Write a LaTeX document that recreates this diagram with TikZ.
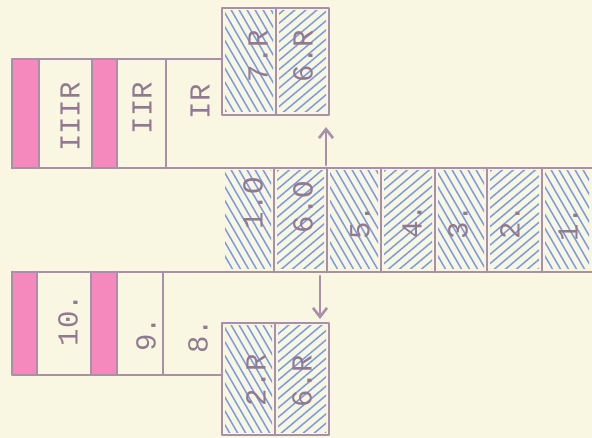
\documentclass[tikz,border=0pt]{standalone}
\usepackage{fontspec}
\setmonofont{Liberation Mono}
\usetikzlibrary{arrows.meta}
\definecolor{paper}{RGB}{249,247,226}
\definecolor{inkpurple}{RGB}{170,143,170}
\definecolor{inkblue}{RGB}{122,156,226}
\definecolor{inkpink}{RGB}{245,125,186}

\begin{document}
\begin{tikzpicture}[x=1pt,y=-1pt,
    frame/.style={draw=inkpurple,line width=2.6pt,line cap=round,line join=round},
    hatch/.style={draw=inkblue,line width=1.5pt},
    typed/.style={font=\ttfamily\fontsize{29}{29}\selectfont,text=inkpurple!85!black,
                  rotate=90,inner sep=0pt},
    pinkband/.style={fill=inkpink,opacity=0.9}]
  \fill[paper] (0,0) rectangle (592,438);
  \useasboundingbox (0,0) rectangle (592,438);
  % pink bands of the two strips
  \foreach \xa/\xb/\ya/\yb in {12/39/59/168,92/117/59/168,12/37/272/375,91/117/272/375}{
    \fill[pinkband] (\xa,\ya) rectangle (\xb,\yb);
  }
  % hatching, steep cells
  \foreach \xa/\xb/\ya/\yb in {222/274/168/272,327/381/168/272,435/487/168/272,542/592/168/272,
                               222/276/8/115,222/275/323/435}{
    \begin{scope}
      \clip (\xa+3,\ya+3) rectangle (\xb-3,\yb-3);
      \foreach \t in {-72,-64,...,60}
        \draw[hatch] (\xa+\t,\ya) -- ++(70,121);
    \end{scope}
  }
  % hatching, flat cells
  \foreach \xa/\xb/\ya/\yb in {274/327/168/272,381/435/168/272,487/542/168/272,
                               276/329/8/115,275/329/323/435}{
    \begin{scope}
      \clip (\xa+3,\ya+3) rectangle (\xb-3,\yb-3);
      \foreach \t in {-150,-139,...,60}
        \draw[hatch] (\xa+\t,\yb) -- ++(145,-122);
    \end{scope}
  }
  % frame
  \draw[frame] (222,8) rectangle (329,115);
  \draw[frame] (276,8) -- (276,115);
  \draw[frame] (222,323) rectangle (329,435);
  \draw[frame] (275,323) -- (275,435);
  \draw[frame] (12,168) -- (592,168);
  \draw[frame] (12,272) -- (592,272);
  \draw[frame] (222,59) -- (12,59) -- (12,168);
  \draw[frame] (12,272) -- (12,375) -- (222,375);
  \foreach \x in {274,327,381,435,487,542}
    \draw[frame] (\x,168) -- (\x,272);
  \foreach \x in {39,92,117,166}
    \draw[frame] (\x,59) -- (\x,168);
  \foreach \x in {37,91,117,163}
    \draw[frame] (\x,272) -- (\x,375);
  % labels
  \foreach \x/\y/\txt [count=\i] in {70/117/IIIR,142/108/IIR,200/102/IR,
      68/320/10.,146/334/9.,198/336/8.,258/56/7.R,303/56/6.R,256/380/2.R,302/381/6.R,
      253/203/1.O,303/207/6.O,360/222/5.,412/221/4.,458/222/3.,510/222/2.,568/224/1.}{
    \node[typed] (lbl\i) at (\x,\y) {\txt};
  }
  % arrows
  \coordinate (upfoot) at (326,165);
  \coordinate (uptip)  at (326,127);
  \coordinate (dnfoot) at (320,276);
  \coordinate (dntip)  at (320,319);
  \draw[frame,-{Straight Barb[length=9pt,width=14pt]}] (upfoot) -- (uptip);
  \draw[frame,-{Straight Barb[length=9pt,width=14pt]}] (dnfoot) -- (dntip);
\end{tikzpicture}
\end{document}
